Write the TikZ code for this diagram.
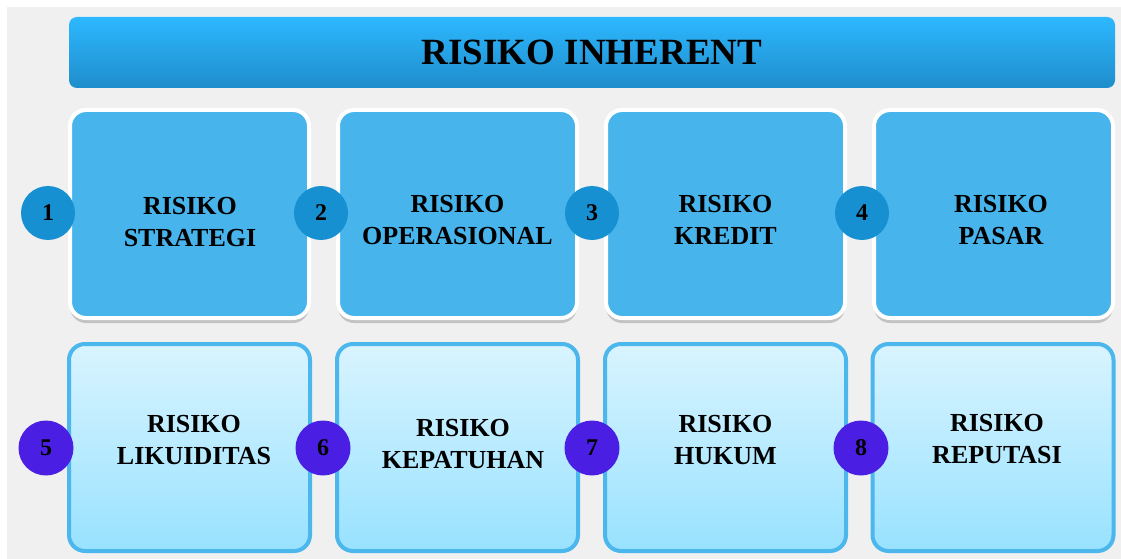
\documentclass[tikz,border=0pt]{standalone}
\usepackage{fontspec}
\setmainfont{Liberation Serif}
\usetikzlibrary{shadows}
\definecolor{bggray}{HTML}{F0F0F0}
\definecolor{titletop}{HTML}{2DB8FF}
\definecolor{titlebot}{HTML}{1F8DCB}
\definecolor{topfill}{HTML}{47B4EC}
\definecolor{circtop}{HTML}{1790D2}
\definecolor{circbot}{HTML}{4A1FE3}
\definecolor{bottop}{HTML}{D9F4FF}
\definecolor{botbot}{HTML}{98E2FF}
\definecolor{botborder}{HTML}{4BB7EC}
\begin{document}
\begin{tikzpicture}[x=1pt,y=-1pt,
  titlebox/.style={rectangle, rounded corners=8pt, top color=titletop, bottom color=titlebot,
    minimum width=1046pt, minimum height=71pt, inner sep=0pt,
    font=\fontsize{37}{37}\selectfont\bfseries},
  topbox/.style={rectangle, rounded corners=16pt, draw=white, line width=4pt, fill=topfill,
    minimum width=239pt, minimum height=208pt, inner sep=0pt,
    drop shadow={opacity=0.4, shadow xshift=0pt, shadow yshift=-5pt}},
  botbox/.style={rectangle, rounded corners=16pt, draw=botborder, line width=4pt,
    top color=bottop, bottom color=botbot,
    minimum width=241pt, minimum height=207pt, inner sep=0pt},
  boxtext/.style={align=center, inner sep=0pt, text=black,
    font=\fontsize{26}{32}\selectfont\bfseries},
  numtop/.style={circle, fill=circtop, minimum size=54pt, inner sep=0pt,
    font=\fontsize{24}{24}\selectfont\bfseries, text=black},
  numbot/.style={circle, fill=circbot, minimum size=55pt, inner sep=0pt,
    font=\fontsize{24}{24}\selectfont\bfseries, text=black}
]
\useasboundingbox (0,0) rectangle (1121,559);
\fill[white] (0,0) rectangle (1121,559);
\fill[bggray] (7,7) rectangle (1121,559);

\node[titlebox] (title) at (592,52.5) {RISIKO INHERENT};

% top row boxes
\node[topbox] (b1) at (189.5,214) {};
\node[topbox] (b2) at (457.5,214) {};
\node[topbox] (b3) at (725.5,214) {};
\node[topbox] (b4) at (993.5,214) {};
\node[boxtext] (t1) at (190,222) {RISIKO\\STRATEGI};
\node[boxtext] (t2) at (457.5,220) {RISIKO\\OPERASIONAL};
\node[boxtext] (t3) at (725.5,220) {RISIKO\\KREDIT};
\node[boxtext] (t4) at (1001,220) {RISIKO\\PASAR};

% bottom row boxes
\node[botbox] (b5) at (189.5,447.5) {};
\node[botbox] (b6) at (457.5,447.5) {};
\node[botbox] (b7) at (725.5,447.5) {};
\node[botbox] (b8) at (993,447.5) {};
\node[boxtext] (t5) at (194,440) {RISIKO\\LIKUIDITAS};
\node[boxtext] (t6) at (463,444) {RISIKO\\KEPATUHAN};
\node[boxtext] (t7) at (725.5,440) {RISIKO\\HUKUM};
\node[boxtext] (t8) at (997,439) {RISIKO\\REPUTASI};

% number circles
\node[numtop] (n1) at (48,213) {1};
\node[numtop] (n2) at (321,213) {2};
\node[numtop] (n3) at (592,213) {3};
\node[numtop] (n4) at (862,213) {4};
\node[numbot] (n5) at (46,448) {5};
\node[numbot] (n6) at (323,448) {6};
\node[numbot] (n7) at (592,448) {7};
\node[numbot] (n8) at (861,448) {8};
\end{tikzpicture}
\end{document}
